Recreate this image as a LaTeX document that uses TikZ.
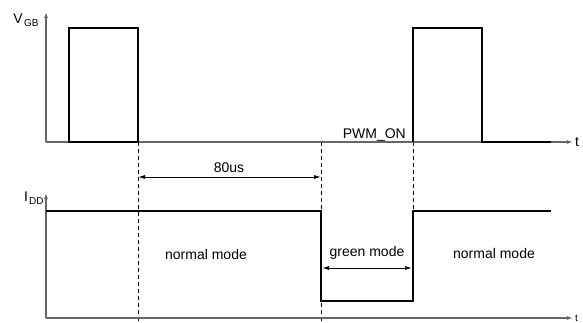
\documentclass[tikz,border=0pt]{standalone}
\usepackage{fontspec}
\setmainfont{Liberation Sans}
\usetikzlibrary{arrows.meta}
\begin{document}
\begin{tikzpicture}[x=1pt,y=-1pt,
  axis/.style={draw=black!60,line width=1.3pt,-{Latex[length=6pt,width=4pt]}},
  sig/.style={draw=black,line width=1.5pt},
  guide/.style={draw=black,line width=0.8pt,dash pattern=on 4pt off 3pt},
  dim/.style={draw=black,line width=0.9pt,{Latex[length=7pt,width=4pt]}-{Latex[length=7pt,width=4pt]}},
  lbl/.style={inner sep=0pt,font=\fontsize{14}{16}\selectfont},
  sublbl/.style={inner sep=0pt,font=\fontsize{10}{12}\selectfont}]
\useasboundingbox (0,0) rectangle (583,323);
\fill[white] (0,0) rectangle (583,323);

% reference points
\coordinate (o1) at (46,142);
\coordinate (y1) at (46,12);
\coordinate (x1) at (573,142);
\coordinate (o2) at (46,318);
\coordinate (y2) at (46,193);
\coordinate (x2) at (573,318);

% dashed timing guides
\coordinate (g1t) at (138,142);
\coordinate (g1b) at (138,321);
\coordinate (g2t) at (321,142);
\coordinate (g2b) at (321,321);
\coordinate (g3t) at (413,142);
\coordinate (g3b) at (413,211);
\draw[guide] (g1t) -- (g1b);
\draw[guide] (g2t) -- (g2b);
\draw[guide] (g3t) -- (g3b);

% axes
\draw[axis] (o1) -- (y1);
\draw[axis] (o1) -- (x1);
\draw[axis] (o2) -- (y2);
\draw[axis] (o2) -- (x2);

% gate voltage pulses
\draw[sig] (69,142) -- (69,28) -- (138,28) -- (138,142) -- cycle;
\draw[sig] (413,142) -- (413,28) -- (482,28) -- (482,142) -- (551,142);

% supply current
\draw[sig] (46,211) -- (321,211) -- (321,301) -- (413,301) -- (413,211) -- (551,211);

% dimension arrows
\draw[dim] (g1b |- 0,177) -- (g2b |- 0,177);
\draw[dim] (322,268) -- (412,268);

% labels
\node[lbl] (vgb) at (18,19) {V};
\node[sublbl,anchor=west] (vgbs) at (24,23) {GB};
\node[lbl] (idd) at (26,197) {I};
\node[sublbl,anchor=west] (idds) at (29,201) {DD};
\node[lbl,anchor=west] (t1) at (575,142) {t};
\node[sublbl,anchor=west] (t2) at (575,318) {t};
\node[lbl,anchor=base east] (pwm) at (406,139) {PWM\_ON};
\node[lbl] (us) at (229,168) {80us};
\node[lbl] (nm1) at (206,254) {normal mode};
\node[lbl] (gm) at (367,253) {green mode};
\node[lbl] (nm2) at (494,253) {normal mode};
\end{tikzpicture}
\end{document}
